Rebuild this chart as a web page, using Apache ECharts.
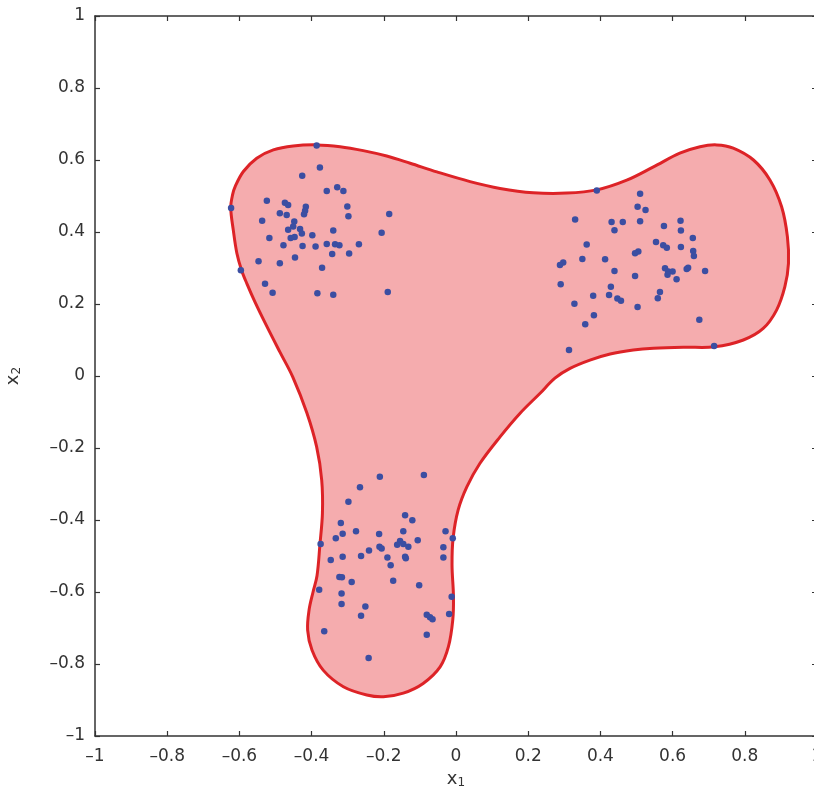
<!DOCTYPE html>
<html>
<head>
<meta charset="utf-8">
<script src="https://cdn.jsdelivr.net/npm/echarts@6/dist/echarts.min.js"></script>
<style>html,body{margin:0;padding:0;background:#fff}#c{width:814px;height:795px}</style>
</head>
<body>
<div id="c"></div>
<script>
// ---- data ----
const cluster1 = [
  [-0.386,0.640],[-0.377,0.579],[-0.426,0.556],[-0.358,0.514],[-0.329,0.524],[-0.312,0.514],
  [-0.524,0.487],[-0.623,0.467],[-0.474,0.481],[-0.465,0.475],[-0.416,0.470],[-0.418,0.459],
  [-0.421,0.449],[-0.488,0.452],[-0.469,0.447],[-0.301,0.471],[-0.298,0.444],[-0.185,0.450],
  [-0.537,0.431],[-0.448,0.429],[-0.451,0.415],[-0.465,0.406],[-0.432,0.408],[-0.427,0.396],
  [-0.340,0.404],[-0.206,0.398],[-0.517,0.383],[-0.458,0.383],[-0.447,0.386],[-0.398,0.391],
  [-0.478,0.363],[-0.425,0.361],[-0.389,0.360],[-0.358,0.367],[-0.335,0.366],[-0.323,0.363],
  [-0.269,0.366],[-0.343,0.339],[-0.296,0.340],[-0.446,0.329],[-0.547,0.319],[-0.488,0.313],
  [-0.371,0.301],[-0.596,0.294],[-0.529,0.256],[-0.508,0.231],[-0.384,0.230],[-0.340,0.226],
  [-0.189,0.233]
];
const cluster2 = [
  [0.390,0.515],[0.510,0.506],[0.503,0.470],[0.525,0.461],[0.330,0.435],[0.431,0.428],
  [0.462,0.428],[0.510,0.430],[0.439,0.405],[0.622,0.431],[0.576,0.417],[0.623,0.404],
  [0.656,0.383],[0.554,0.372],[0.574,0.363],[0.584,0.356],[0.623,0.358],[0.657,0.347],
  [0.659,0.333],[0.362,0.365],[0.505,0.346],[0.496,0.341],[0.350,0.325],[0.413,0.324],
  [0.297,0.315],[0.288,0.308],[0.439,0.292],[0.579,0.299],[0.588,0.290],[0.600,0.290],
  [0.586,0.281],[0.639,0.297],[0.643,0.301],[0.690,0.292],[0.496,0.278],[0.611,0.269],
  [0.290,0.255],[0.429,0.248],[0.424,0.225],[0.380,0.223],[0.447,0.215],[0.457,0.209],
  [0.565,0.233],[0.559,0.216],[0.328,0.201],[0.503,0.192],[0.382,0.169],[0.358,0.144],
  [0.674,0.156],[0.313,0.072],[0.715,0.083]
];
const cluster3 = [
  [-0.211,-0.280],[-0.089,-0.275],[-0.266,-0.309],[-0.298,-0.349],[-0.319,-0.408],[-0.141,-0.387],
  [-0.121,-0.401],[-0.314,-0.438],[-0.333,-0.451],[-0.277,-0.431],[-0.213,-0.439],[-0.146,-0.431],
  [-0.029,-0.431],[-0.009,-0.451],[-0.375,-0.467],[-0.155,-0.458],[-0.163,-0.469],[-0.146,-0.467],
  [-0.132,-0.474],[-0.106,-0.456],[-0.212,-0.474],[-0.206,-0.479],[-0.241,-0.485],[-0.263,-0.500],
  [-0.314,-0.502],[-0.347,-0.511],[-0.190,-0.504],[-0.141,-0.502],[-0.139,-0.506],[-0.181,-0.526],
  [-0.035,-0.476],[-0.035,-0.504],[-0.323,-0.558],[-0.316,-0.559],[-0.289,-0.572],[-0.174,-0.569],
  [-0.102,-0.581],[-0.379,-0.594],[-0.317,-0.604],[-0.317,-0.633],[-0.251,-0.640],[-0.263,-0.666],
  [-0.081,-0.663],[-0.072,-0.670],[-0.065,-0.676],[-0.012,-0.613],[-0.019,-0.661],[-0.365,-0.709],
  [-0.081,-0.719],[-0.242,-0.783]
];
const boundary = [
  [-0.624,0.467],[-0.619,0.503],[-0.611,0.528],[-0.589,0.568],[-0.552,0.605],[-0.506,0.628],
  [-0.451,0.639],[-0.386,0.642],[-0.321,0.637],[-0.257,0.626],[-0.192,0.611],[-0.127,0.591],
  [-0.053,0.567],[0.039,0.540],[0.122,0.521],[0.214,0.509],[0.307,0.508],[0.390,0.517],
  [0.473,0.544],[0.547,0.581],[0.620,0.619],[0.676,0.637],[0.722,0.642],[0.768,0.633],
  [0.824,0.600],[0.870,0.544],[0.902,0.470],[0.918,0.387],[0.921,0.313],[0.911,0.248],
  [0.888,0.183],[0.851,0.132],[0.796,0.100],[0.716,0.081],[0.630,0.080],[0.547,0.077],
  [0.491,0.072],[0.427,0.061],[0.371,0.044],[0.316,0.021],[0.274,-0.006],[0.233,-0.048],
  [0.177,-0.104],[0.122,-0.169],[0.066,-0.243],[0.030,-0.308],[0.006,-0.372],[-0.008,-0.450],
  [-0.011,-0.525],[-0.007,-0.613],[-0.009,-0.678],[-0.021,-0.752],[-0.044,-0.808],[-0.091,-0.854],
  [-0.146,-0.881],[-0.201,-0.891],[-0.247,-0.886],[-0.312,-0.863],[-0.368,-0.817],[-0.399,-0.761],
  [-0.411,-0.706],[-0.407,-0.650],[-0.396,-0.600],[-0.385,-0.555],[-0.377,-0.469],[-0.370,-0.381],
  [-0.372,-0.289],[-0.386,-0.197],[-0.413,-0.103],[-0.452,-0.003],[-0.488,0.067],[-0.526,0.142],
  [-0.557,0.206],[-0.579,0.256],[-0.594,0.294],[-0.607,0.341],[-0.617,0.406]
];
const xTickValues = [-1,-0.8,-0.6,-0.4,-0.2,0,0.2,0.4,0.6,0.8,1];
const yTickValues = [-1,-0.8,-0.6,-0.4,-0.2,0,0.2,0.4,0.6,0.8,1];

// ---- chart ----
const FONT = 'DejaVu Sans';
function fmt(v){
  const r = Math.round(v*10)/10;
  let s = String(Math.abs(r));
  return (r < 0 ? '\u2013' : '') + s;
}
const axisCommon = {
  type:'value', min:-1, max:1, interval:0.2,
  splitLine:{show:false},
  axisLine:{show:true, onZero:false, lineStyle:{color:'#333', width:1.5}},
  axisTick:{show:true, inside:true, length:5, lineStyle:{color:'#333', width:1.2}},
};
const chart = echarts.init(document.getElementById('c'), null, {renderer:'canvas'});
chart.setOption({
  animation:false,
  backgroundColor:'#ffffff',
  grid:{left:95, top:16, width:722, height:720, containLabel:false, outerBoundsMode:'none'},
  xAxis:[
    Object.assign({}, axisCommon, {
      position:'bottom',
      axisLabel:{show:true, margin:12, color:'#333', fontSize:17, fontFamily:FONT,
        formatter:(v)=> xTickValues.some(t=>Math.abs(t-v)<1e-9) ? fmt(v) : ''},
      name:'{x|x}{s|1}', nameLocation:'middle', nameGap:30,
      nameTextStyle:{rich:{
        x:{fontSize:18, fontFamily:FONT, color:'#333', padding:[0,0,7,0]},
        s:{fontSize:12, fontFamily:FONT, color:'#333'}
      }}
    }),
    Object.assign({}, axisCommon, {position:'top', axisLabel:{show:false}})
  ],
  yAxis:[
    Object.assign({}, axisCommon, {
      position:'left',
      axisLabel:{show:true, margin:10, color:'#333', fontSize:17, fontFamily:FONT,
        formatter:(v)=> yTickValues.some(t=>Math.abs(t-v)<1e-9) ? fmt(v) : ''},
      name:'{x|x}{s|2}', nameLocation:'middle', nameGap:66, nameRotate:90,
      nameTextStyle:{rich:{
        x:{fontSize:18, fontFamily:FONT, color:'#333', padding:[0,0,7,0]},
        s:{fontSize:12, fontFamily:FONT, color:'#333'}
      }}
    }),
    Object.assign({}, axisCommon, {position:'right', axisLabel:{show:false}})
  ],
  series:[
    {
      type:'custom', coordinateSystem:'cartesian2d', xAxisIndex:0, yAxisIndex:0,
      z:1, silent:true,
      data:[[0,0]],
      renderItem:(params, api)=>{
        const pts = boundary.map(p=>api.coord(p));
        return {
          type:'polygon',
          shape:{points:pts, smooth:0.35},
          style:{fill:'#f5acae', stroke:'#dd2327', lineWidth:3}
        };
      }
    },
    {type:'scatter', data:cluster1, symbolSize:6.5, z:3, itemStyle:{color:'#3b4ea2', opacity:1}},
    {type:'scatter', data:cluster2, symbolSize:6.5, z:3, itemStyle:{color:'#3b4ea2', opacity:1}},
    {type:'scatter', data:cluster3, symbolSize:6.5, z:3, itemStyle:{color:'#3b4ea2', opacity:1}}
  ]
});
</script>
</body>
</html>
